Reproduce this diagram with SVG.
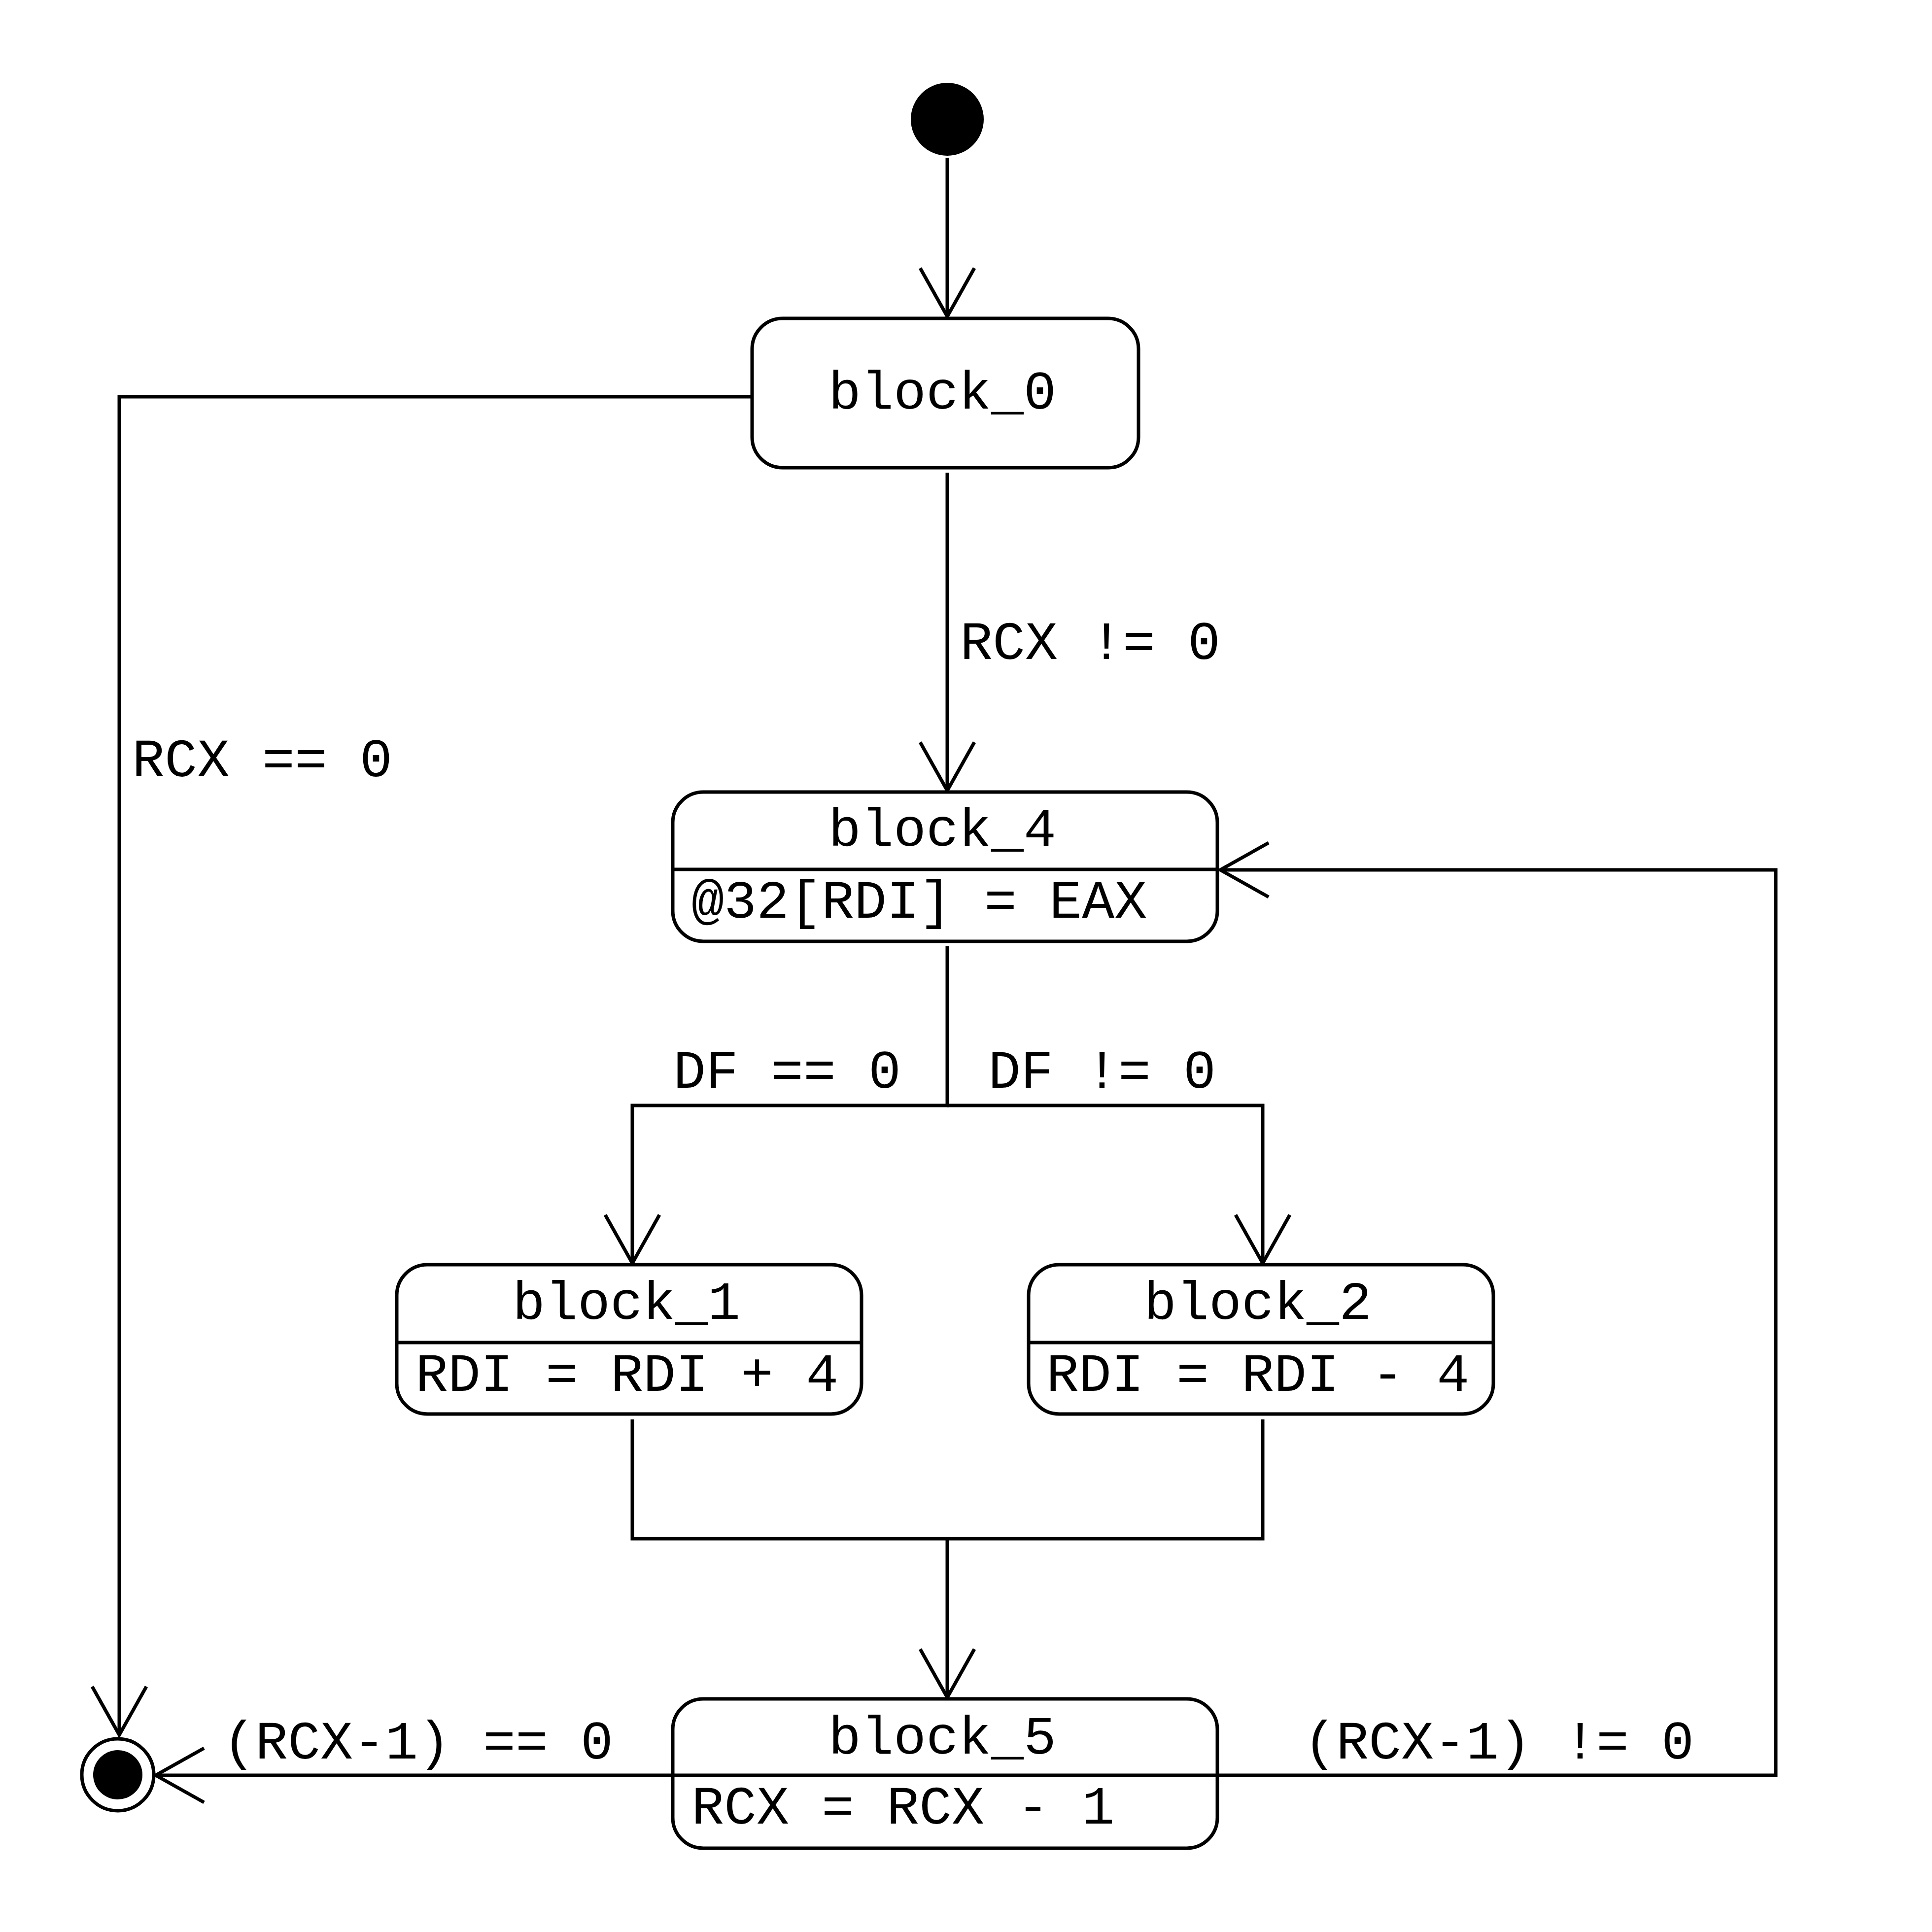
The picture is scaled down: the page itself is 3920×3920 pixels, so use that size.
<svg xmlns="http://www.w3.org/2000/svg" width="3920" height="3920" viewBox="0 0 3920 3920">
  <style>
    .box { fill: #ffffff; stroke: #000000; stroke-width: 7; }
    .sep { stroke: #000000; stroke-width: 7; }
    .edge { fill: none; stroke: #000000; stroke-width: 7; }
    text { font-family: "Liberation Mono", "DejaVu Sans Mono", monospace; font-size: 110px; fill: #000000; }
    .title { text-anchor: middle; }
  </style>
  <defs>
    <marker id="open-arrow" markerUnits="userSpaceOnUse" orient="auto" markerWidth="220" markerHeight="220" refX="0" refY="0" viewBox="-110 -110 220 220" overflow="visible">
      <path d="M -98 -55 L 0 0 L -98 55" fill="none" stroke="#000000" stroke-width="7"/>
    </marker>
  </defs>
  <rect width="3920" height="3920" fill="#ffffff"/>

  <!-- transitions -->
  <g id="connectors">
    <path class="edge" d="M 1922 320 V 642" marker-end="url(#open-arrow)"/>
    <path class="edge" d="M 1922 959 V 1604" marker-end="url(#open-arrow)"/>
    <path class="edge" d="M 1525 805 H 242 V 3520" marker-end="url(#open-arrow)"/>
    <path class="edge" d="M 1922 1920 V 2243 H 1283 V 2563" marker-end="url(#open-arrow)"/>
    <path class="edge" d="M 1922 2243 H 2562 V 2563" marker-end="url(#open-arrow)"/>
    <path class="edge" d="M 1283 2880 V 3122 H 2562 V 2880"/>
    <path class="edge" d="M 1922 3122 V 3444" marker-end="url(#open-arrow)"/>
    <path class="edge" d="M 1365 3602 H 316" marker-end="url(#open-arrow)"/>
    <path class="edge" d="M 2470 3602 H 3603 V 1765 H 2476" marker-end="url(#open-arrow)"/>
    <text x="1948" y="1337">RCX != 0</text>
    <text x="268" y="1575">RCX == 0</text>
    <text x="1366" y="2207">DF == 0</text>
    <text x="2005" y="2207">DF != 0</text>
    <text x="452" y="3568">(RCX-1) == 0</text>
    <text x="2645" y="3568">(RCX-1) != 0</text>
  </g>

  <!-- initial pseudo-state -->
  <g id="start">
    <circle cx="1922" cy="242" r="74" fill="#000000"/>
  </g>

  <!-- final pseudo-state -->
  <g id="end">
    <circle cx="239" cy="3601" r="73" fill="#ffffff" stroke="#000000" stroke-width="7"/>
    <circle cx="239" cy="3601" r="50" fill="#000000"/>
  </g>

  <g id="block_0">
    <rect class="box" x="1526" y="646" width="784" height="303" rx="62" ry="62"/>
    <text class="title" x="1912" y="829">block_0</text>
  </g>

  <g id="block_4">
    <rect class="box" x="1365" y="1607" width="1105" height="303" rx="62" ry="62"/>
    <line class="sep" x1="1365" y1="1764" x2="2470" y2="1764"/>
    <text class="title" x="1912" y="1716">block_4</text>
    <text x="1403" y="1862">@32[RDI] = EAX</text>
  </g>

  <g id="block_1">
    <rect class="box" x="805" y="2566" width="943" height="303" rx="62" ry="62"/>
    <line class="sep" x1="805" y1="2724" x2="1748" y2="2724"/>
    <text class="title" x="1271" y="2676">block_1</text>
    <text x="843" y="2822">RDI = RDI + 4</text>
  </g>

  <g id="block_2">
    <rect class="box" x="2087" y="2566" width="943" height="303" rx="62" ry="62"/>
    <line class="sep" x1="2087" y1="2724" x2="3030" y2="2724"/>
    <text class="title" x="2552" y="2676">block_2</text>
    <text x="2123" y="2822">RDI = RDI - 4</text>
  </g>

  <g id="block_5">
    <rect class="box" x="1365" y="3447" width="1105" height="303" rx="62" ry="62"/>
    <line class="sep" x1="1365" y1="3602" x2="2470" y2="3602"/>
    <text class="title" x="1912" y="3558">block_5</text>
    <text x="1403" y="3700">RCX = RCX - 1</text>
  </g>
</svg>
